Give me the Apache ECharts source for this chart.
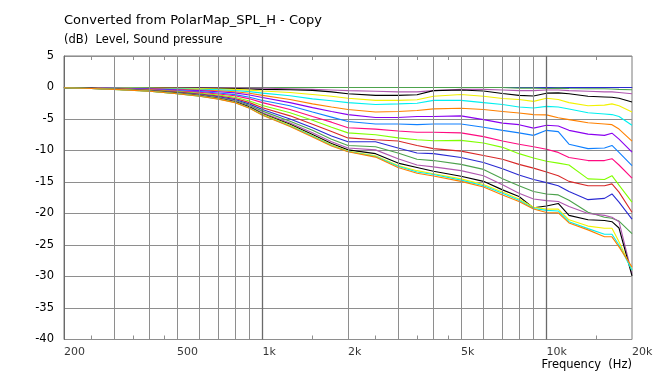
<!DOCTYPE html>
<html>
<head>
<meta charset="utf-8">
<script src="https://cdn.jsdelivr.net/npm/echarts@6/dist/echarts.min.js"></script>
<style>html,body{margin:0;padding:0;background:#fff;}#c{width:654px;height:374px;}</style>
</head>
<body>
<div id="c"></div>
<script>
// Frequencies (Hz) at which the curves were read
const FREQ = [200,250,300,400,500,600,700,800,900,1000,1250,1500,1750,2000,2500,3000,3500,4000,5000,6000,7000,8000,9000,10000,11000,12000,14000,16000,17000,18000,20000];

// SPL curves (dB), one per off-axis angle
const deg0  = [0,0,0,0,0,0,0,0,0,0, 0,0,0,0,0,0,0,0,0,0,0,0,0,0,0,0,0,0,0,0,0];
const deg5  = [0,0,0,0,0,0,0,0,0,0, 0,0,0,0,0,0,0,0,0,0,0,-0.1,-0.1,-0.15,-0.1,-0.15,-0.2,-0.2,-0.25,-0.3,-0.35];
const deg10 = [0,0,0,0,0,0,-0.05,-0.05,-0.1,-0.1, -0.2,-0.3,-0.4,-0.5,-0.6,-0.7,-0.7,-0.5,-0.3,-0.3,-0.4,-0.5,-0.5,-0.4,-0.4,-0.5,-0.6,-0.7,-0.7,-0.8,-1.0];
const deg15 = [0,-0.01,-0.02,-0.04,-0.07,-0.1,-0.13,-0.17,-0.23,-0.3, -0.35,-0.45,-0.7,-1.0,-1.25,-1.25,-1.15,-0.5,-0.4,-0.55,-0.95,-1.25,-1.35,-0.9,-0.85,-1.0,-1.4,-1.5,-1.55,-1.7,-2.3];
const deg20 = [-0.01,-0.02,-0.04,-0.08,-0.13,-0.18,-0.23,-0.3,-0.41,-0.55, -0.8,-1.1,-1.4,-1.7,-2.05,-2.05,-1.95,-1.4,-1.1,-1.4,-1.75,-1.9,-2.2,-1.7,-1.9,-2.4,-2.9,-2.8,-2.6,-2.9,-3.9];
const deg25 = [-0.01,-0.03,-0.06,-0.12,-0.2,-0.28,-0.37,-0.48,-0.66,-0.9, -1.3,-1.8,-2.1,-2.4,-2.7,-2.6,-2.5,-2.05,-2.05,-2.4,-2.7,-3.1,-3.25,-3.0,-3.1,-3.4,-4.0,-4.2,-4.3,-4.6,-6.0];
const deg30 = [-0.01,-0.04,-0.08,-0.17,-0.28,-0.39,-0.52,-0.67,-0.92,-1.25, -1.9,-2.6,-3.1,-3.5,-3.9,-3.8,-3.65,-3.4,-3.3,-3.5,-3.8,-4.05,-4.3,-4.35,-4.8,-5.1,-5.6,-5.8,-5.9,-6.6,-8.5];
const deg35 = [-0.02,-0.05,-0.11,-0.22,-0.36,-0.5,-0.67,-0.86,-1.19,-1.6, -2.4,-3.2,-3.8,-4.3,-4.75,-4.75,-4.6,-4.6,-4.5,-5.1,-5.65,-5.9,-6.45,-6.0,-6.1,-6.8,-7.4,-7.6,-7.25,-8.2,-10.25];
const deg40 = [-0.02,-0.07,-0.14,-0.28,-0.47,-0.66,-0.87,-1.13,-1.55,-2.05, -2.9,-3.9,-4.7,-5.4,-5.8,-5.8,-5.9,-5.8,-5.8,-6.3,-6.8,-7.2,-7.6,-6.8,-7.0,-9.0,-9.7,-9.6,-9.2,-10.3,-12.4];
const deg45 = [-0.03,-0.08,-0.17,-0.33,-0.55,-0.77,-1.02,-1.32,-1.8,-2.4, -3.5,-4.6,-5.5,-6.4,-6.6,-6.9,-7.1,-7.1,-7.2,-7.8,-8.5,-9.0,-9.4,-9.8,-10.3,-11.1,-11.6,-11.6,-11.3,-12.3,-14.4];
const deg50 = [-0.03,-0.1,-0.2,-0.39,-0.65,-0.91,-1.2,-1.56,-2.15,-2.85, -4.0,-5.2,-6.3,-7.2,-7.5,-8.0,-8.3,-8.45,-8.4,-8.8,-9.5,-10.5,-11.2,-11.7,-12.0,-12.3,-14.5,-14.6,-14.0,-15.5,-18.2];
const deg55 = [-0.04,-0.11,-0.22,-0.44,-0.73,-1.02,-1.35,-1.75,-2.4,-3.2, -4.5,-5.85,-7.0,-8.0,-8.3,-8.5,-9.2,-9.7,-10.1,-10.8,-11.4,-12.2,-12.8,-13.4,-14.0,-14.9,-15.6,-15.6,-15.3,-16.6,-19.8];
const deg60 = [-0.04,-0.12,-0.24,-0.48,-0.8,-1.12,-1.48,-1.92,-2.64,-3.5, -5.0,-6.4,-7.7,-8.6,-8.6,-9.6,-10.4,-10.5,-11.1,-11.9,-12.9,-13.9,-14.6,-15.1,-15.6,-16.5,-17.8,-17.6,-16.9,-18.2,-20.9];
const deg65 = [-0.04,-0.13,-0.26,-0.52,-0.86,-1.2,-1.59,-2.06,-2.84,-3.75, -5.35,-6.8,-8.2,-9.2,-9.4,-10.4,-11.4,-11.6,-12.2,-13.0,-14.5,-15.6,-16.5,-16.9,-17.05,-17.9,-19.8,-20.6,-20.75,-21.2,-23.2];
const deg70 = [-0.05,-0.14,-0.27,-0.55,-0.91,-1.27,-1.68,-2.18,-3.0,-4.0, -5.65,-7.2,-8.6,-9.6,-9.9,-11.3,-12.3,-12.6,-13.2,-14.0,-15.45,-16.8,-17.7,-17.95,-18.1,-18.9,-20.0,-20.3,-20.6,-21.3,-29.6];
const deg75 = [-0.05,-0.14,-0.28,-0.56,-0.94,-1.32,-1.74,-2.26,-3.1,-4.15, -5.85,-7.45,-8.9,-9.9,-10.5,-12.0,-12.7,-13.3,-14.1,-14.9,-16.25,-17.3,-19.1,-18.8,-18.4,-20.3,-21.0,-21.1,-21.3,-22.3,-29.9];
const deg80 = [-0.05,-0.15,-0.29,-0.58,-0.97,-1.36,-1.8,-2.33,-3.2,-4.25, -6.0,-7.65,-9.1,-10.1,-10.85,-12.4,-13.2,-13.7,-14.5,-15.4,-16.6,-17.7,-19.0,-19.3,-19.3,-21.0,-22.0,-22.35,-22.35,-24.5,-29.0];
const deg85 = [-0.05,-0.15,-0.3,-0.59,-0.99,-1.39,-1.83,-2.38,-3.27,-4.35, -6.1,-7.75,-9.2,-10.15,-10.95,-12.5,-13.4,-13.8,-14.7,-15.6,-16.8,-17.9,-19.2,-19.5,-19.6,-21.3,-22.4,-23.3,-23.3,-25.0,-29.0];
const deg90 = [-0.05,-0.15,-0.3,-0.6,-1.0,-1.4,-1.85,-2.4,-3.3,-4.4, -6.2,-7.85,-9.3,-10.2,-11.05,-12.7,-13.6,-14.05,-14.9,-15.8,-17.05,-18.1,-19.3,-19.85,-19.9,-21.5,-22.6,-23.7,-23.7,-25.3,-28.5];

const CURVES = [deg0,deg5,deg10,deg15,deg20,deg25,deg30,deg35,deg40,deg45,deg50,deg55,deg60,deg65,deg70,deg75,deg80,deg85,deg90];

// Axis ticks
const X_TICK_VALUES = [200,500,1000,2000,5000,10000,20000];
const X_TICK_LABELS = ['200','500','1k','2k','5k','10k','20k'];
const X_GRID_MINOR = [300,400,500,600,700,800,900,2000,3000,4000,5000,6000,7000,8000,9000];
const X_GRID_MAJOR = [1000,10000];
const X_SMALL_TICKS = [250,350,450,1500,2500,3500,4500,15000];
const Y_MIN = -40, Y_MAX = 5, Y_STEP = 5;

const COLORS = ['#2a2ad2','#4ca24c','#b058b0','#000000','#f2f200','#00f0f0','#ff8000','#8a00f0','#1080ff','#ff0a80','#80ff00','#d82828',
                '#2a2ad2','#4ca24c','#b058b0','#000000','#f2f200','#00f0f0','#ff8000'];
const FONT = 'DejaVu Sans';

const series = [];
// gridlines & small ticks drawn as mark lines in data coordinates
const gridLines = [];
X_GRID_MINOR.forEach(f => gridLines.push({xAxis: f, lineStyle: {color: '#8e8e8e', width: 1, type: 'solid'}}));
X_GRID_MAJOR.forEach(f => gridLines.push({xAxis: f, lineStyle: {color: '#6a6a6a', width: 1.3, type: 'solid'}}));
X_SMALL_TICKS.forEach(f => {
  gridLines.push([{coord: [f, Y_MIN], lineStyle: {color: '#8e8e8e', width: 1}}, {coord: [f, Y_MIN + 0.75]}]);
  gridLines.push([{coord: [f, Y_MAX], lineStyle: {color: '#8e8e8e', width: 1}}, {coord: [f, Y_MAX - 0.75]}]);
});
series.push({
  type: 'line', data: [], z: 1, silent: true,
  markLine: {silent: true, symbol: 'none', animation: false, label: {show: false}, data: gridLines}
});
CURVES.forEach((c, i) => {
  series.push({
    type: 'line', name: String(i * 5), z: 3,
    data: FREQ.map((f, k) => [f, c[k]]),
    showSymbol: false, symbol: 'none',
    lineStyle: {color: COLORS[i], width: 1.1},
    itemStyle: {color: COLORS[i]},
    animation: false, silent: true
  });
});
// x tick labels, positioned through the axis scale
series.push({
  type: 'scatter', z: 5, silent: true, clip: false, symbolSize: 0,
  data: X_TICK_VALUES.map((f, i) => ({value: [f, Y_MIN], name: X_TICK_LABELS[i]})),
  label: {show: true, position: [0, 7], formatter: p => p.name, color: '#000', fontFamily: FONT, fontSize: 11, align: 'left', verticalAlign: 'top'},
  animation: false
});

const chart = echarts.init(document.getElementById('c'), null, {renderer: 'canvas'});
chart.setOption({
  backgroundColor: '#ffffff',
  animation: false,
  title: [
    {text: 'Converted from PolarMap_SPL_H - Copy', left: 64, top: 14, padding: 0, textStyle: {fontFamily: FONT, fontSize: 13, fontWeight: 'normal', color: '#000'}},
    {text: '(dB)  Level, Sound pressure', left: 64, top: 34, padding: 0, textStyle: {fontFamily: FONT, fontSize: 11.5, fontWeight: 'normal', color: '#000'}},
    {text: 'Frequency  (Hz)', right: 22, top: 359, padding: 0, textStyle: {fontFamily: FONT, fontSize: 11.5, fontWeight: 'normal', color: '#000'}}
  ],
  grid: {left: 64, right: 22, top: 56, bottom: 34.5, show: true, borderColor: '#7a7a7a', borderWidth: 1, backgroundColor: '#fff'},
  xAxis: {
    type: 'log', logBase: 10, min: 200, max: 20000,
    axisLine: {show: true, lineStyle: {color: '#6a6a6a'}},
    axisTick: {show: false}, axisLabel: {show: false}, splitLine: {show: false}, minorTick: {show: false}
  },
  yAxis: {
    type: 'value', min: Y_MIN, max: Y_MAX, interval: Y_STEP,
    axisLine: {show: true, lineStyle: {color: '#6a6a6a'}},
    axisTick: {show: false},
    axisLabel: {color: '#000', fontFamily: FONT, fontSize: 11.5, margin: 10},
    splitLine: {show: true, lineStyle: {color: '#8e8e8e', width: 1}}
  },
  series: series
});
</script>
</body>
</html>
